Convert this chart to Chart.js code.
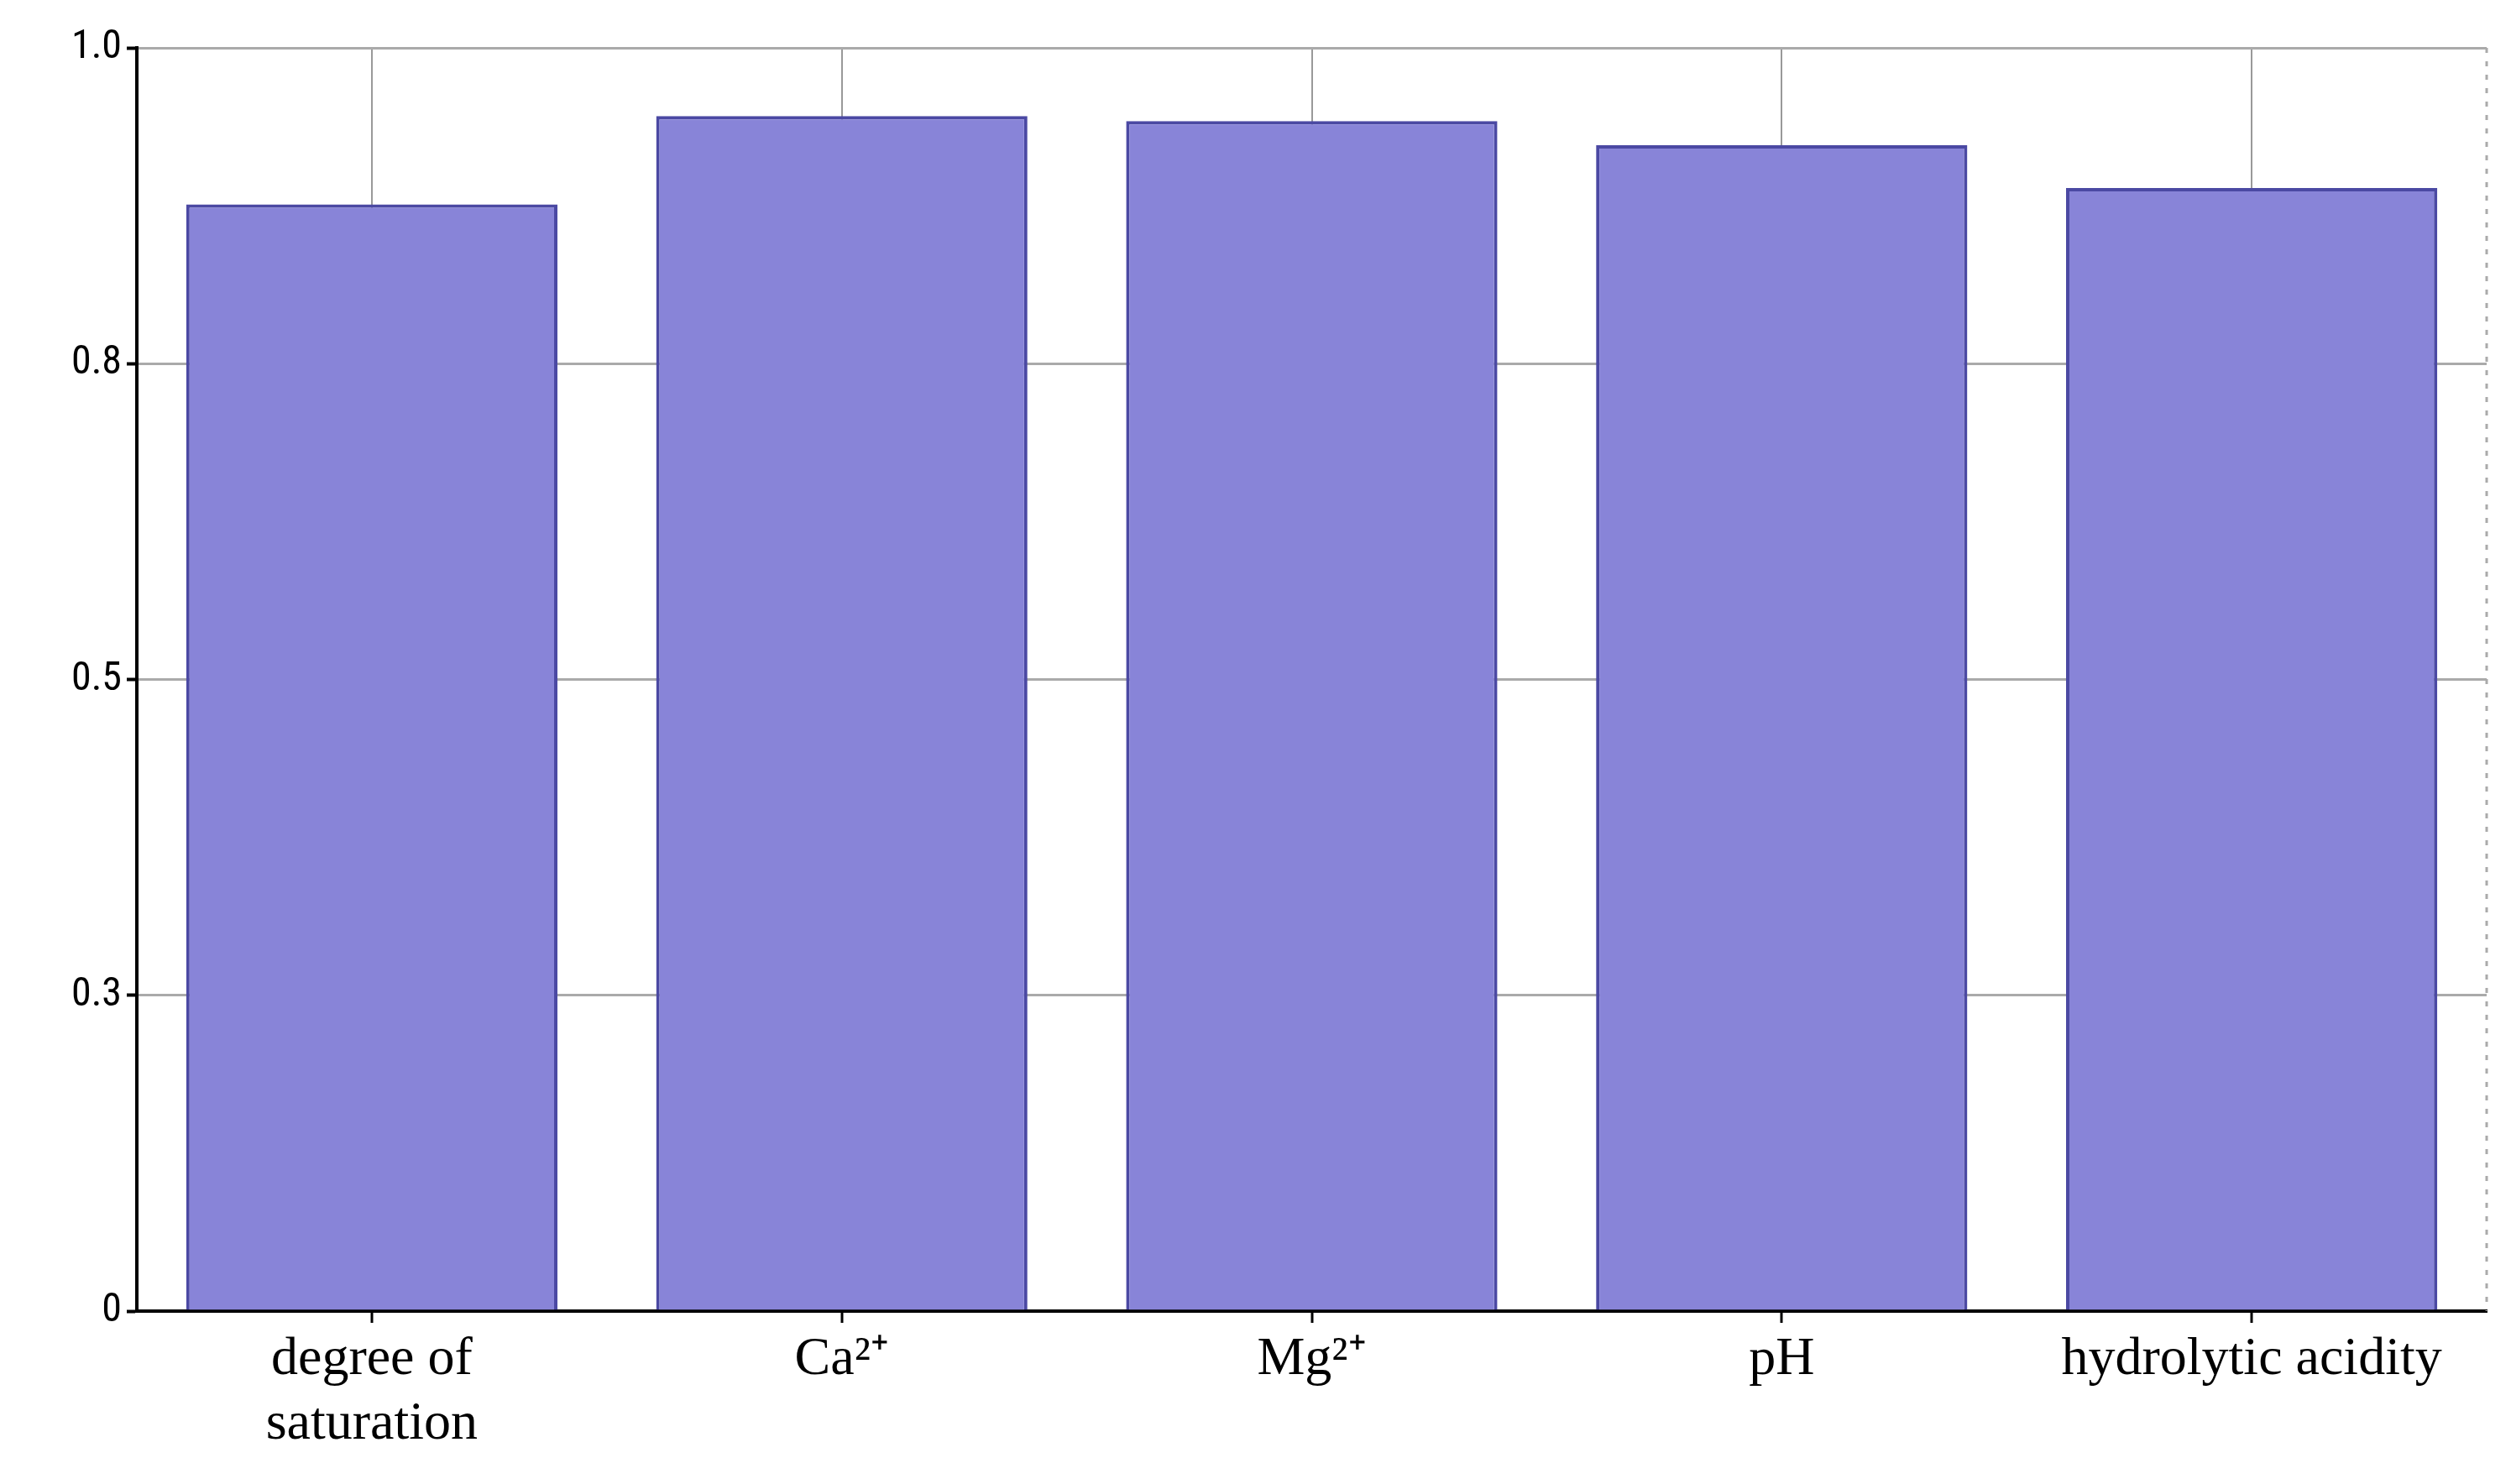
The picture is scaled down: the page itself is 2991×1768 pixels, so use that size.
<!DOCTYPE html>
<html><head><meta charset="utf-8">
<script src="https://cdn.jsdelivr.net/npm/chart.js@4"></script>
<style>html,body{margin:0;padding:0;background:#fff}#w{width:2991px;height:1768px}</style>
</head><body><div id="w"><canvas id="c"></canvas></div>
<script>
const categories = [["degree of","saturation"], "Ca²⁺", "Mg²⁺", "pH", "hydrolytic acidity"];
const values = [0.876, 0.946, 0.942, 0.923, 0.889];
const yTicks = [0, 0.25, 0.5, 0.75, 1];

const rightBorder = {
  id: 'rightBorder',
  afterDraw(chart) {
    const {ctx, chartArea: a} = chart;
    ctx.save();
    ctx.strokeStyle = '#aaaaaa'; ctx.lineWidth = 3; ctx.setLineDash([6, 10]);
    ctx.beginPath(); ctx.moveTo(a.right, a.top); ctx.lineTo(a.right, a.bottom); ctx.stroke();
    ctx.restore();
  }
};

new Chart(document.getElementById('c'), {
  type: 'bar',
  data: { labels: categories, datasets: [{
    data: values, backgroundColor: '#8884d8', borderColor: '#4b49a3', borderWidth: 4,
    barPercentage: 0.79, categoryPercentage: 1.0 }] },
  options: {
    responsive: true, maintainAspectRatio: false, animation: false,
    layout: { padding: { top: 57, right: 29, left: 0, bottom: 0 } },
    plugins: { legend: { display: false }, tooltip: { enabled: false } },
    scales: {
      x: {
        grid: { offset: false, color: '#999', lineWidth: 2, borderDash: [18, 14], drawTicks: true, tickLength: 14, tickColor: '#000', tickWidth: 3, z: -1 },
        border: { display: true, color: '#000', width: 4 },
        ticks: { color: '#000', padding: 6, font: { family: 'Liberation Serif', size: 64 } },
        afterFit(s) { s.height = 206; }
      },
      y: {
        min: 0, max: 1,
        afterBuildTicks(s) { s.ticks = yTicks.map(v => ({ value: v })); },
        grid: { color: '#aaa', lineWidth: 3, borderDash: [6, 10], tickLength: 12, tickColor: '#000', tickWidth: 4, z: -1 },
        border: { display: true, color: '#000', width: 4 },
        ticks: { color: '#000', padding: 6, font: { family: 'Liberation Sans Narrow, Roboto Condensed, Liberation Sans', size: 48 } },
        afterFit(s) { s.width = 163; }
      }
    }
  },
  plugins: [rightBorder]
});
</script></body></html>
